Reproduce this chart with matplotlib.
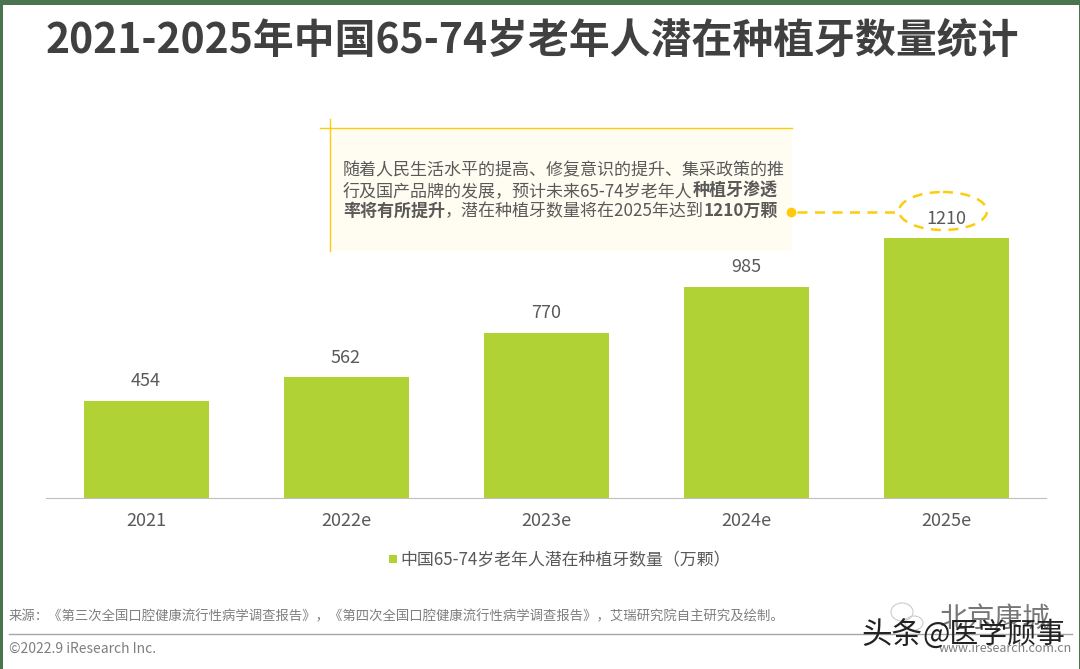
import matplotlib
matplotlib.use('Agg')
import matplotlib.pyplot as plt
from matplotlib.patches import Rectangle, Ellipse

plt.rcParams['font.family'] = ['Noto Sans CJK SC', 'DejaVu Sans']

categories = ['2021', '2022e', '2023e', '2024e', '2025e']
values = [454, 562, 770, 985, 1210]
series_name = '中国65-74岁老年人潜在种植牙数量（万颗）'
title = '2021-2025年中国65-74岁老年人潜在种植牙数量统计'
source = '来源：《第三次全国口腔健康流行性病学调查报告》，《第四次全国口腔健康流行性病学调查报告》，艾瑞研究院自主研究及绘制。'
copyright_text = '©2022.9 iResearch Inc.'
site = 'www.iresearch.com.cn'
note_lines = [
    [('随着人民生活水平的提高、修复意识的提升、集采政策的推', False)],
    [('行及国产品牌的发展，预计未来65-74岁老年人', False), ('种植牙渗透', True)],
    [('率将有所提升', True), ('，潜在种植牙数量将在2025年达到', False), ('1210万颗', True)],
]

W, H = 1080, 669
GREEN, DARK, GREY, YEL = '#b1d234', '#404040', '#595959', '#fdcc0d'
fig = plt.figure(figsize=(W / 100, H / 100), dpi=100, facecolor='white')

# overlay in pixel coordinates
ov = fig.add_axes([0, 0, 1, 1], zorder=3)
ov.set_xlim(0, W); ov.set_ylim(H, 0); ov.axis('off'); ov.patch.set_alpha(0)

# frame
for r in [(0, 0, W, 5), (0, 0, 3, H), (W - 1, 0, 1, H)]:
    ov.add_patch(Rectangle((r[0], r[1]), r[2], r[3], color='#4a7350', lw=0))

# chart
ax = fig.add_axes([46 / W, 1 - 498 / H, 1000 / W, 398 / H], zorder=2)
ax.patch.set_alpha(0)
ax.bar(range(5), values, width=0.625, color=GREEN)
ax.set_xlim(-0.5, 4.5)
ax.set_ylim(0, 398 / 0.2145)
ax.set_xticks(range(5), categories, fontsize=13, color=GREY)
ax.tick_params(axis='x', length=0, pad=10)
ax.set_yticks([])
for s in ['top', 'left', 'right']:
    ax.spines[s].set_visible(False)
ax.spines['bottom'].set_color('#bfbfbf')
for i, v in enumerate(values):
    ax.text(i, v + 50, str(v), ha='center', va='bottom', fontsize=13, color=GREY, zorder=6)

# title
ov.text(532, 40.5, title, ha='center', va='center', fontsize=29.4, fontweight='bold', color=DARK)

# callout
ov.add_patch(Rectangle((330, 128), 462, 123, color='#fffdf1', lw=0, zorder=0))
ov.plot([320, 792], [128, 128], color=YEL, lw=1)
ov.plot([330, 330], [119, 251], color=YEL, lw=1)
fig.canvas.draw()
rend = fig.canvas.get_renderer()
ys = [170.5, 191, 211]
for line, y in zip(note_lines, ys):
    x = 343
    for s, bold in line:
        t = ov.text(x, y, s, ha='left', va='center', fontsize=12.25, color=GREY,
                    fontweight='bold' if bold else 'normal')
        x += t.get_window_extent(rend).width
ov.plot([791], [212], marker='o', ms=7, color='#ffc90e', mec='none')
ov.plot([797, 899], [212, 212], color=YEL, lw=1.8, ls=(0, (4, 3)))
ov.add_patch(Ellipse((943, 211), 88, 38, fill=False, ec=YEL, lw=1.8, ls=(0, (4, 3))))

# legend
ov.add_patch(Rectangle((389, 555), 8, 8, color=GREEN, lw=0))
ov.text(400, 560.5, series_name, ha='left', va='center', fontsize=12.2, color=GREY)

# footer
ov.text(9, 616, source, ha='left', va='center', fontsize=9.6, color='#7f7f7f')
ov.plot([9, 1072], [634, 634], color='#a6a6a6', lw=1)
ov.text(9, 649, copyright_text, ha='left', va='center', fontsize=10, color='#7f7f7f')
ov.text(1072, 649, site, ha='right', va='center', fontsize=9, color='#7f7f7f')

# watermark
ov.add_patch(Ellipse((902, 612), 22, 18, fill=False, ec='#cccccc', lw=0.8))
ov.add_patch(Ellipse((914, 623), 18, 14, fill=False, ec='#cccccc', lw=0.8))
ov.text(939, 620, '北京康城', ha='left', va='center', fontsize=20, color='#555555', alpha=.8)
ov.text(861, 635, '头条', ha='left', va='center', fontsize=22, color='#222222')
ov.text(922, 635, '@医学顾事', ha='left', va='center', fontsize=20.8, color='#222222')

fig.savefig('out.png', dpi=100, facecolor='white')
